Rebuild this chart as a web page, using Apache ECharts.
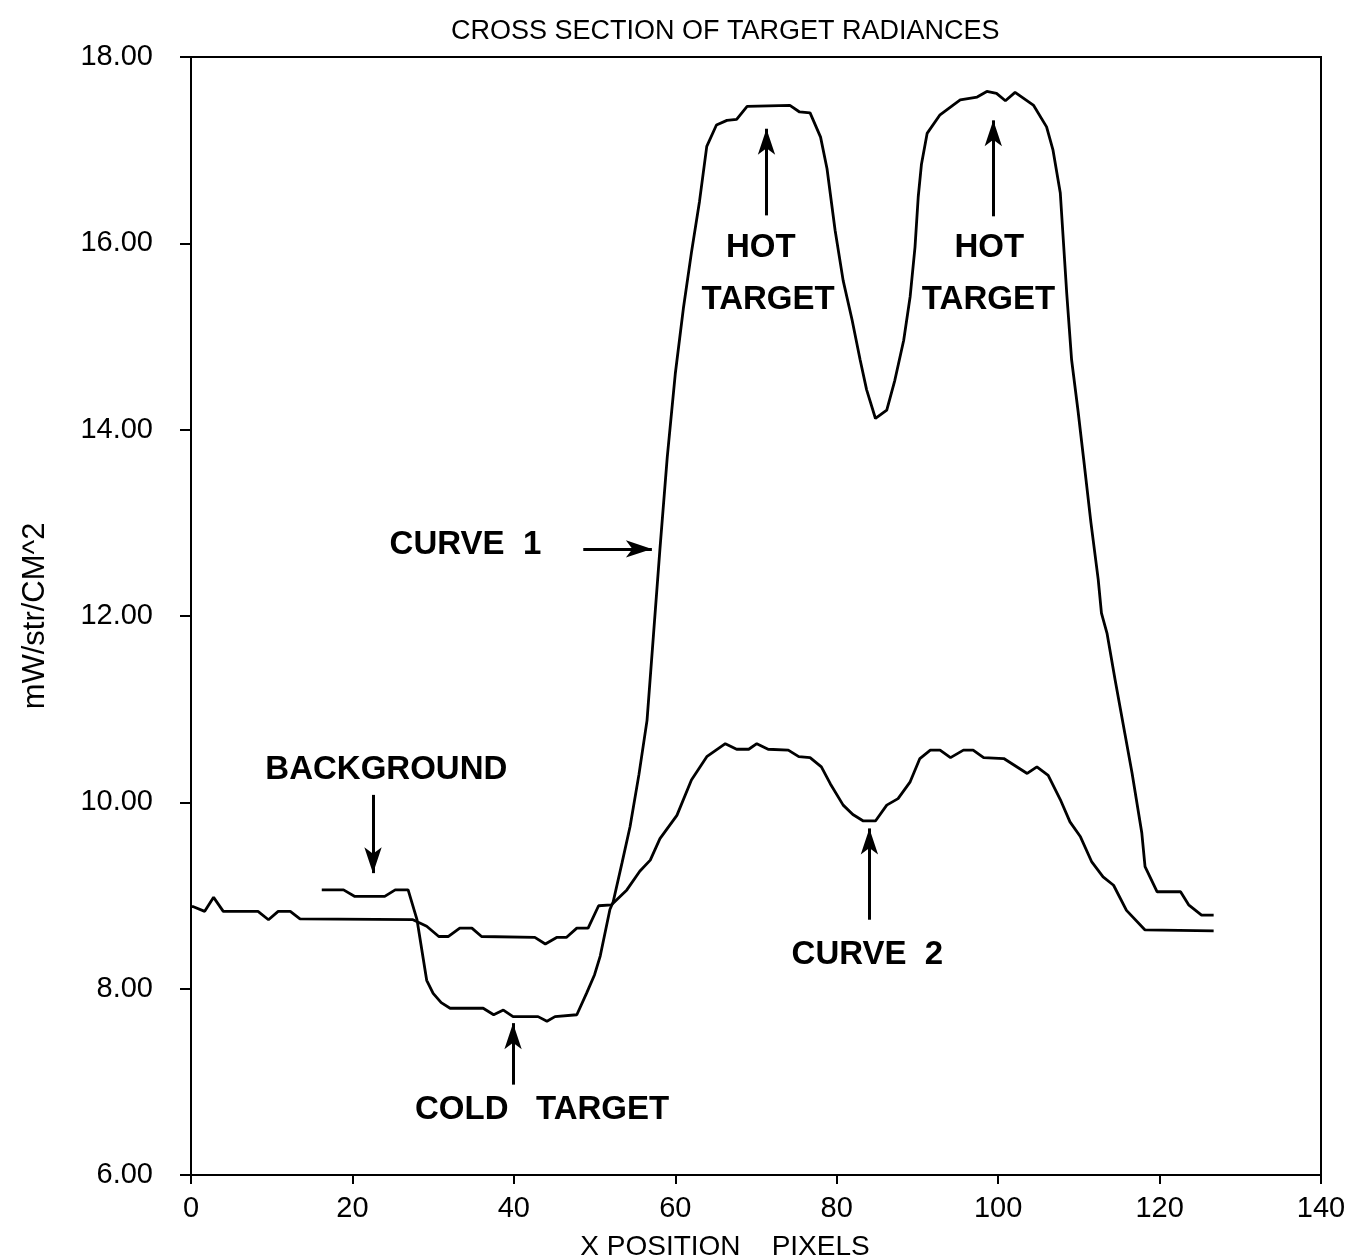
<!DOCTYPE html>
<html>
<head>
<meta charset="utf-8">
<title>Cross section of target radiances</title>
<script src="https://cdn.jsdelivr.net/npm/echarts@6/dist/echarts.min.js"></script>
<style>
  html, body { margin: 0; padding: 0; background: #fff; }
  #chart { width: 1347px; height: 1258px; }
</style>
</head>
<body>
<div id="chart"></div>
<script>
// values (x in pixels, y in mW/str/CM^2)
const curve1X = [16.2, 18.9, 20.3, 24.0, 25.3, 26.9, 28.0, 29.2, 30.0, 31.0, 32.1, 36.2, 37.5, 38.7, 39.9, 43.0,
  44.1, 45.1, 47.8, 49.0, 50.0, 50.7, 51.9, 52.3, 53.4, 54.4, 55.5, 56.5, 57.3, 58.1, 59.0, 60.0, 61.0, 62.0,
  63.0, 63.9, 65.1, 66.4, 67.6, 68.9, 74.2, 75.4, 76.7, 78.0, 78.8, 79.8, 80.8, 81.9, 82.9, 83.7, 84.8, 86.2,
  87.2, 88.3, 89.1, 89.7, 90.1, 90.5, 91.2, 92.8, 95.3, 97.4, 98.6, 99.8, 100.9, 102.1, 104.4, 106.0, 106.8,
  107.7, 108.5, 109.1, 109.9, 110.6, 111.5, 112.4, 112.8, 113.5, 114.5, 115.7, 116.6, 117.8, 118.2, 119.7,
  122.6, 123.6, 125.2, 126.7];
const curve1Y = [9.06, 9.06, 8.99, 8.99, 9.06, 9.06, 8.74, 8.09, 7.95, 7.85, 7.79, 7.79, 7.72, 7.77, 7.70, 7.70,
  7.65, 7.70, 7.72, 7.95, 8.15, 8.35, 8.85, 8.93, 9.35, 9.74, 10.30, 10.88, 11.80, 12.72, 13.70, 14.60, 15.30, 15.90,
  16.45, 17.04, 17.27, 17.32, 17.33, 17.47, 17.48, 17.41, 17.40, 17.14, 16.80, 16.14, 15.60, 15.18, 14.75, 14.43, 14.12, 14.21,
  14.53, 14.96, 15.43, 15.96, 16.50, 16.85, 17.18, 17.38, 17.54, 17.57, 17.63, 17.61, 17.53, 17.62, 17.48, 17.25, 17.00,
  16.54, 15.46, 14.75, 14.20, 13.68, 13.00, 12.39, 12.03, 11.81, 11.31, 10.74, 10.31, 9.67, 9.31, 9.04,
  9.04, 8.90, 8.79, 8.79];

const curve2X = [0.0, 0.3, 1.7, 2.8, 4.0, 8.3, 9.6, 10.8, 12.3, 13.5, 27.5, 29.2, 30.7, 31.9, 33.3, 34.8, 36.0,
  42.6, 43.9, 45.3, 46.5, 47.8, 49.2, 50.5, 52.1, 54.0, 55.6, 56.9, 58.1, 60.2, 62.0, 63.9, 66.2, 67.6, 69.1,
  70.1, 71.5, 74.0, 75.3, 76.7, 78.1, 79.2, 80.8, 82.0, 83.3, 84.8, 86.2, 87.6, 89.1, 90.3, 91.6, 92.8, 94.1,
  95.7, 96.9, 98.2, 100.7, 103.6, 104.8, 106.2, 107.7, 108.9, 110.2, 111.6, 113.0, 114.3, 115.9, 118.2, 126.7];
const curve2Y = [8.88, 8.88, 8.83, 8.98, 8.83, 8.83, 8.74, 8.83, 8.83, 8.75, 8.74, 8.67, 8.56, 8.56, 8.65, 8.65, 8.56,
  8.55, 8.48, 8.55, 8.55, 8.65, 8.65, 8.89, 8.90, 9.06, 9.26, 9.38, 9.61, 9.86, 10.24, 10.49, 10.63, 10.57, 10.57,
  10.63, 10.57, 10.56, 10.49, 10.48, 10.38, 10.20, 9.97, 9.87, 9.80, 9.80, 9.97, 10.04, 10.22, 10.47, 10.56, 10.56, 10.48,
  10.56, 10.56, 10.48, 10.47, 10.31, 10.38, 10.29, 10.03, 9.79, 9.63, 9.36, 9.20, 9.11, 8.84, 8.63, 8.62];

const xTicks = [0, 20, 40, 60, 80, 100, 120, 140];
const yTicks = [6, 8, 10, 12, 14, 16, 18];

// annotations, placed in data coordinates
const noteText = ['CURVE  1', 'BACKGROUND', 'COLD   TARGET', 'HOT', 'TARGET', 'HOT', 'TARGET', 'CURVE  2'];
const noteX = [34.0, 24.2, 43.5, 70.6, 71.5, 98.9, 98.8, 83.8];
const noteY = [12.76, 10.35, 6.70, 15.95, 15.39, 15.95, 15.39, 8.36];

const arrowFromX = [48.6, 22.55, 39.9, 71.3, 99.4, 84.05];
const arrowFromY = [12.72, 10.08, 6.97, 16.30, 16.29, 8.74];
const arrowToX = [57.1, 22.55, 39.9, 71.3, 99.4, 84.05];
const arrowToY = [12.72, 9.24, 7.63, 17.23, 17.32, 9.72];

const FONT = 'Liberation Sans';

const chart = echarts.init(document.getElementById('chart'), null, { renderer: 'canvas' });

const pairs = (xs, ys) => xs.map((x, i) => [x, ys[i]]);

chart.setOption({
  animation: false,
  backgroundColor: '#fff',
  textStyle: { fontFamily: FONT, color: '#000' },
  title: {
    text: 'CROSS SECTION OF TARGET RADIANCES',
    left: 446,
    top: 13,
    textStyle: { fontFamily: FONT, fontSize: 27, fontWeight: 'normal', color: '#000' }
  },
  grid: {
    left: 191,
    right: 26,
    top: 57,
    bottom: 83,
    outerBoundsMode: 'none',
    containLabel: false,
    show: true,
    borderColor: '#000',
    borderWidth: 2,
    backgroundColor: 'transparent'
  },
  xAxis: {
    type: 'value',
    min: xTicks[0],
    max: xTicks[xTicks.length - 1],
    interval: xTicks[1] - xTicks[0],
    name: 'X POSITION    PIXELS',
    nameLocation: 'middle',
    nameGap: 58,
    nameTextStyle: { fontFamily: FONT, fontSize: 28, color: '#000', padding: [0, 62, 0, 0] },
    axisLine: { show: true, lineStyle: { color: '#000', width: 2 } },
    axisTick: { show: true, length: 9, lineStyle: { color: '#000', width: 2 } },
    axisLabel: { color: '#000', fontSize: 29, margin: 19, fontFamily: FONT },
    splitLine: { show: false }
  },
  yAxis: {
    type: 'value',
    min: yTicks[0],
    max: yTicks[yTicks.length - 1],
    interval: yTicks[1] - yTicks[0],
    name: 'mW/str/CM^2',
    nameLocation: 'middle',
    nameGap: 140,
    nameTextStyle: { fontFamily: FONT, fontSize: 31, color: '#000' },
    axisLine: { show: true, lineStyle: { color: '#000', width: 2 } },
    axisTick: { show: true, length: 11, lineStyle: { color: '#000', width: 2 } },
    axisLabel: {
      color: '#000', fontSize: 29, margin: 38, fontFamily: FONT,
      formatter: v => v.toFixed(2)
    },
    splitLine: { show: false }
  },
  series: [
    {
      name: 'Curve 1',
      type: 'line',
      data: pairs(curve1X, curve1Y),
      showSymbol: false,
      symbol: 'none',
      lineStyle: { color: '#000', width: 2.8 },
      silent: true,
      markLine: {
        silent: true,
        symbol: ['none', 'arrow'],
        symbolSize: 20,
        label: { show: false },
        lineStyle: { color: '#000', width: 3, type: 'solid' },
        data: arrowFromX.map((x, i) => [
          { coord: [x, arrowFromY[i]], symbol: 'none' },
          { coord: [arrowToX[i], arrowToY[i]], symbol: 'arrow', symbolSize: [13, 26] }
        ])
      },
      markPoint: {
        silent: true,
        symbol: 'circle',
        symbolSize: 1,
        itemStyle: { color: 'rgba(0,0,0,0)' },
        label: {
          show: true,
          position: 'inside',
          color: '#000',
          fontFamily: FONT,
          fontWeight: 'bold',
          fontSize: 33,
          formatter: p => p.name
        },
        data: noteText.map((t, i) => ({ name: t, coord: [noteX[i], noteY[i]] }))
      }
    },
    {
      name: 'Curve 2',
      type: 'line',
      data: pairs(curve2X, curve2Y),
      showSymbol: false,
      symbol: 'none',
      lineStyle: { color: '#000', width: 2.8 },
      silent: true
    }
  ]
});
</script>
</body>
</html>
